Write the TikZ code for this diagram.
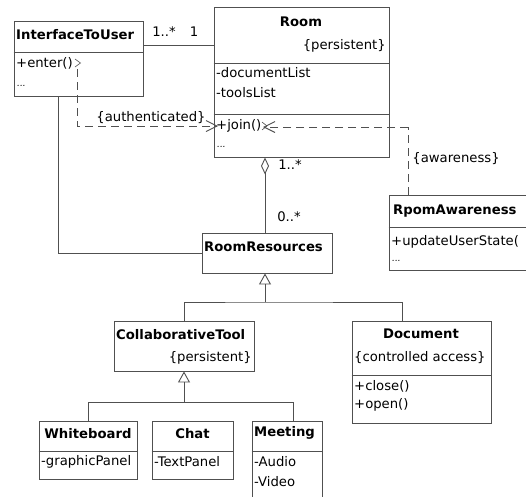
\documentclass[tikz,border=0pt]{standalone}
\usepackage{fontspec}
\setmainfont{DejaVu Sans}
\usetikzlibrary{arrows.meta}
\definecolor{linec}{RGB}{80,80,80}
\begin{document}
\begin{tikzpicture}[x=1pt,y=-1pt,
  cls/.style={draw=linec, line width=0.9pt, rectangle, inner sep=0pt, fill=white},
  conn/.style={draw=linec, line width=0.9pt},
  dep/.style={conn, dash pattern=on 8pt off 5pt},
  txt/.style={inner sep=0pt, font=\fontsize{13.2}{16}\selectfont},
  bld/.style={inner sep=0pt, font=\fontsize{13.2}{16}\selectfont\bfseries},
  dots/.style={inner sep=0pt, font=\fontsize{9}{9}\selectfont\itshape},
  barb/.style={-{Straight Barb[length=11pt,width=11pt]}},
  gen/.style={-{Triangle[open,length=11pt,width=12pt]}},
  agg/.style={{Diamond[open,length=17pt,width=8pt]}-}
]
\useasboundingbox[fill=white] (0,0) rectangle (526,496);
\clip (0,0) rectangle (526,496);

% ---- class boxes ----
\node[cls, minimum width=129pt, minimum height=75pt] (IU) at (78.5,58.5) {};
\node[cls, minimum width=175pt, minimum height=150pt] (Room) at (301.5,82) {};
\node[cls, minimum width=151pt, minimum height=75pt] (RA) at (464.5,232.5) {};
\node[cls, minimum width=130pt, minimum height=40pt] (RR) at (267,253) {};
\node[cls, minimum width=140pt, minimum height=50pt] (CT) at (184,346) {};
\node[cls, minimum width=139pt, minimum height=102pt] (Doc) at (421.5,372) {};
\node[cls, minimum width=98pt, minimum height=58pt] (WB) at (88,450) {};
\node[cls, minimum width=81pt, minimum height=58pt] (Chat) at (192.5,450) {};
\node[cls, minimum width=70pt, minimum height=89pt] (Meet) at (287,465.5) {};

% ---- compartment dividers ----
\draw[conn] (IU.west |- 0,52) -- (IU.east |- 0,52);
\draw[conn] (Room.west |- 0,63) -- (Room.east |- 0,63);
\draw[conn] (Room.west |- 0,114) -- (Room.east |- 0,114);
\draw[conn] (RA.west |- 0,227) -- (RA.east |- 0,227);
\draw[conn] (Doc.west |- 0,375) -- (Doc.east |- 0,375);
\draw[conn] (WB.west |- 0,451) -- (WB.east |- 0,451);
\draw[conn] (Chat.west |- 0,451) -- (Chat.east |- 0,451);
\draw[conn] (Meet.west |- 0,451) -- (Meet.east |- 0,451);

% ---- texts ----
\node[bld, anchor=west] (tIU) at (16,35) {InterfaceToUser};
\node[txt, anchor=west] (tIU1) at (16,63) {+enter()};
\node[dots, anchor=west] (tIU2) at (17,86) {...};

\node[bld] (tRoom) at (301,22) {Room};
\node[txt, anchor=east] (tRoomP) at (386,46) {\{persistent\}};
\node[txt, anchor=west] (tRoom1) at (216,73) {-documentList};
\node[txt, anchor=west] (tRoom2) at (216,93) {-toolsList};
\node[txt, anchor=west] (tRoom3) at (216,126) {+join()};
\node[dots, anchor=west] (tRoom4) at (217,147) {...};

\node[bld, anchor=west] (tRA) at (393,211) {RpomAwareness};
\node[txt, anchor=west] (tRA1) at (391,242) {+updateUserState(};
\node[dots, anchor=west] (tRA2) at (392,261) {...};

\node[bld, anchor=west] (tRR) at (204,247) {RoomResources};

\node[bld, anchor=west] (tCT) at (116,335) {CollaborativeTool};
\node[txt, anchor=east] (tCTP) at (252,358) {\{persistent\}};

\node[bld] (tDoc) at (421,334) {Document};
\node[txt, anchor=west] (tDocP) at (354,358) {\{controlled access\}};
\node[txt, anchor=west] (tDoc1) at (354,386) {+close()};
\node[txt, anchor=west] (tDoc2) at (354,405) {+open()};

\node[bld] (tWB) at (88,434) {Whiteboard};
\node[txt, anchor=west] (tWB1) at (41,462) {-graphicPanel};
\node[bld] (tChat) at (192.5,434) {Chat};
\node[txt, anchor=west] (tChat1) at (154,462) {-TextPanel};
\node[bld, anchor=west] (tMeet) at (254,433) {Meeting};
\node[txt, anchor=west] (tMeet1) at (254,462) {-Audio};
\node[txt, anchor=west] (tMeet2) at (254,482) {-Video};

% ---- small method marks ----
\draw[conn, line width=0.6pt] (75,59) -- (80.5,63) -- (75,67);
\draw[conn, line width=0.6pt] (262,122) -- (267,126) -- (262,130);

% ---- association InterfaceToUser -- Room ----
\draw[conn] (IU.east |- 0,45) -- (Room.west |- 0,45);
\node[txt] (m1) at (164,32) {1..*};
\node[txt] (m2) at (194,32) {1};

% ---- dependency {authenticated} ----
\coordinate (enterPt) at (77,69);
\coordinate (joinIn) at (218,126);
\draw[dep, barb] (enterPt) |- (joinIn);
\node[txt] (lAuth) at (151,118) {\{authenticated\}};

% ---- dependency {awareness} ----
\coordinate (awTop) at (408,127);
\coordinate (joinOut) at (263,127);
\draw[dep] (RA.north -| awTop) -- (awTop);
\draw[dep, barb] (awTop) -- (joinOut);
\node[txt] (lAw) at (456,159) {\{awareness\}};

% ---- aggregation Room -- RoomResources ----
\coordinate (aggX) at (265,0);
\draw[conn, agg] (Room.south -| aggX) -- (RR.north -| aggX);
\node[txt] (m3) at (290,165) {1..*};
\node[txt] (m4) at (289,217) {0..*};

% ---- association InterfaceToUser -- RoomResources ----
\coordinate (iuX) at (58,0);
\draw[conn] (IU.south -| iuX) |- (RR.west);

% ---- generalization to RoomResources ----
\coordinate (g1) at (265,302);
\coordinate (ctX) at (184,0);
\coordinate (docX) at (402,0);
\draw[conn] (CT.north -| ctX) |- (g1) -| (Doc.north -| docX);
\draw[conn, gen] (g1) -- (RR.south -| g1);

% ---- generalization to CollaborativeTool ----
\coordinate (g2) at (184,402);
\coordinate (wbX) at (88,0);
\coordinate (chX) at (192,0);
\coordinate (mtX) at (293,0);
\draw[conn] (WB.north -| wbX) |- (g2) -| (Meet.north -| mtX);
\draw[conn] (Chat.north -| chX) -- (Chat.north -| chX |- g2);
\draw[conn, gen] (g2) -- (CT.south -| g2);
\end{tikzpicture}
\end{document}
